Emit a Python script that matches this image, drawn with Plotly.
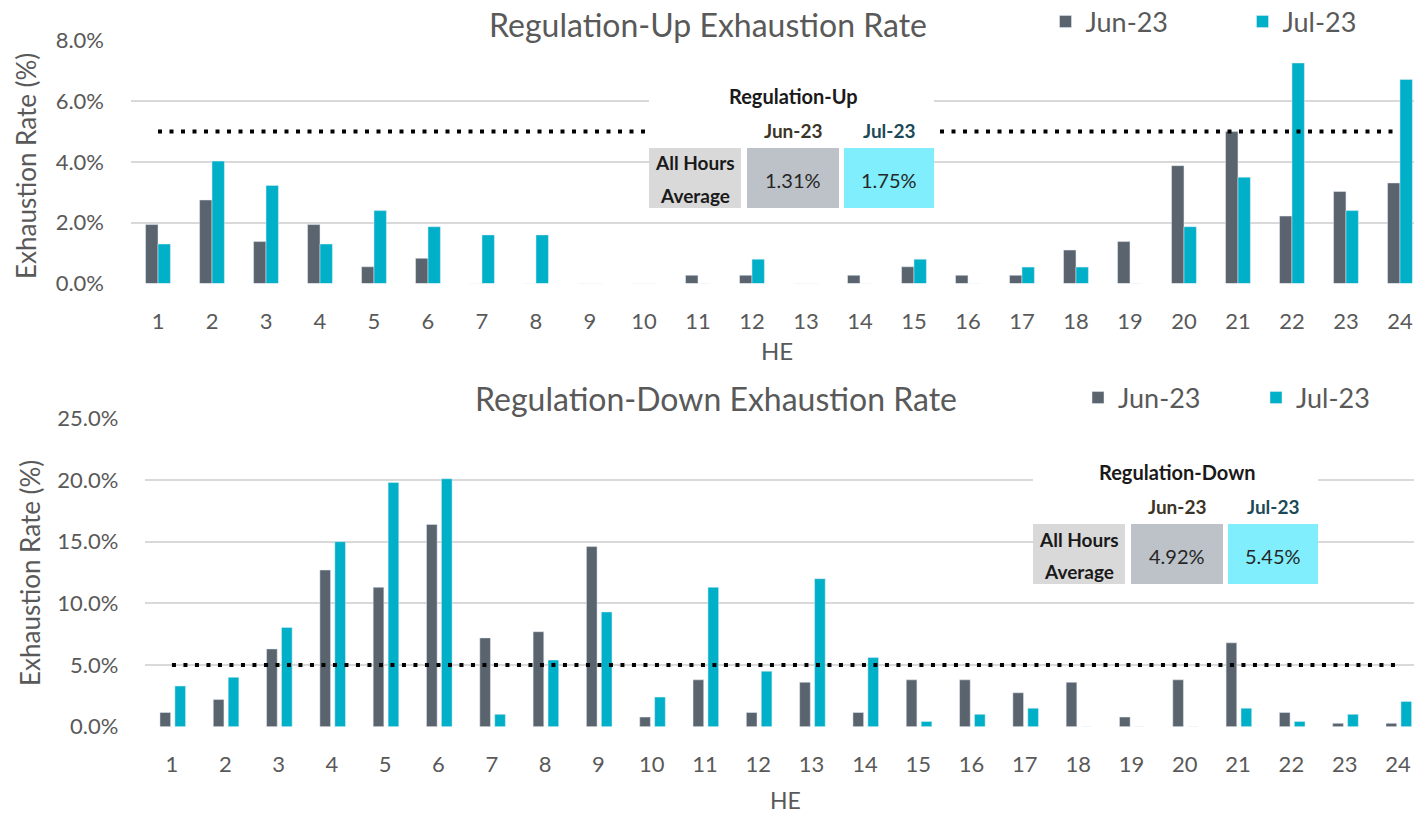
import plotly.graph_objects as go

W, H = 1414, 816

# ---------------- data ----------------
hours = list(range(1, 25))
hour_labels = [str(h) for h in hours]

reg_up_jun = [1.94, 2.75, 1.38, 1.94, 0.55, 0.83, 0, 0, 0, 0, 0.27, 0.27,
              0, 0.27, 0.55, 0.27, 0.27, 1.10, 1.38, 3.88, 5.0, 2.22, 3.03, 3.31]
reg_up_jul = [1.30, 4.03, 3.23, 1.30, 2.40, 1.87, 1.60, 1.60, 0, 0, 0, 0.80,
              0, 0, 0.80, 0, 0.54, 0.54, 0, 1.87, 3.50, 7.26, 2.40, 6.72]

reg_dn_jun = [1.15, 2.2, 6.3, 12.7, 11.3, 16.4, 7.2, 7.7, 14.6, 0.78, 3.8, 1.15,
              3.6, 1.15, 3.8, 3.8, 2.75, 3.6, 0.78, 3.8, 6.8, 1.15, 0.27, 0.27]
reg_dn_jul = [3.3, 4.0, 8.05, 15.0, 19.8, 20.1, 1.0, 5.4, 9.3, 2.4, 11.3, 4.5,
              12.0, 5.6, 0.43, 1.0, 1.5, 0, 0, 0, 1.5, 0.43, 1.0, 2.05]

threshold = 5.0
threshold_x = [1, 24]

months = ["Jun-23", "Jul-23"]
up_avg = ["1.31%", "1.75%"]
dn_avg = ["4.92%", "5.45%"]

# ---------------- style ----------------
C_JUN = "#59646e"
C_JUL = "#00b0c8"
C_GRID = "#d9d9d9"
C_TXT = "#595959"
FONT = "Lato"

def px_x(p):
    return p / W

def px_y(p):
    return 1 - p / H

fig = go.Figure()

# top chart (adjacent bars)
fig.add_trace(go.Bar(x=hours, y=reg_up_jun, name=months[0], marker_color=C_JUN,
                     xaxis="x", yaxis="y", legend="legend"))
fig.add_trace(go.Bar(x=hours, y=reg_up_jul, name=months[1], marker_color=C_JUL,
                     xaxis="x", yaxis="y", legend="legend2"))
fig.add_trace(go.Scatter(x=threshold_x, y=[threshold, threshold], mode="lines",
                         line=dict(color="black", width=4, dash="4px,7.5px"),
                         showlegend=False, xaxis="x", yaxis="y", hoverinfo="skip"))
# bottom chart (small gap between the two bars of a pair)
fig.add_trace(go.Bar(x=hours, y=reg_dn_jun, name=months[0], marker_color=C_JUN,
                     width=0.2, offset=-0.225,
                     xaxis="x2", yaxis="y2", legend="legend3"))
fig.add_trace(go.Bar(x=hours, y=reg_dn_jul, name=months[1], marker_color=C_JUL,
                     width=0.2, offset=0.055,
                     xaxis="x2", yaxis="y2", legend="legend4"))
fig.add_trace(go.Scatter(x=threshold_x, y=[threshold, threshold], mode="lines",
                         line=dict(color="black", width=4, dash="4px,7.5px"),
                         showlegend=False, xaxis="x2", yaxis="y2", hoverinfo="skip"))

tickfont = dict(family=FONT, size=22, color=C_TXT)

xcommon = dict(tickmode="array", tickvals=hours, ticktext=hour_labels,
               showgrid=False, zeroline=False, showline=False, ticks="",
               tickfont=tickfont, ticklabelstandoff=22, fixedrange=True)
ycommon = dict(showgrid=True, gridcolor=C_GRID, gridwidth=1.5, zeroline=False,
               showline=False, ticks="", ticksuffix="%", tickformat=".1f",
               tickfont=tickfont, ticklabelstandoff=26, fixedrange=True)

def legend_at(x_center_sym, y_center):
    return dict(orientation="h", xref="container", yref="container",
                x=px_x(x_center_sym - 20), xanchor="left",
                y=px_y(y_center), yanchor="middle",
                font=dict(family=FONT, size=27, color=C_TXT),
                bgcolor="rgba(0,0,0,0)", borderwidth=0, itemwidth=30)

fig.update_layout(
    width=W, height=H,
    margin=dict(l=0, r=0, t=0, b=0, autoexpand=False),
    paper_bgcolor="white", plot_bgcolor="white",
    barmode="group", bargap=0.54, bargroupgap=0.0,
    font=dict(family=FONT, color=C_TXT),
    xaxis=dict(domain=[px_x(131), 1], range=[0.5, 24.26], anchor="y", **xcommon),
    yaxis=dict(domain=[px_y(283.5), px_y(40.5)], range=[0, 8], dtick=2,
               anchor="x", **ycommon),
    xaxis2=dict(domain=[px_x(145.3), 1], range=[0.5, 24.3], anchor="y2", **xcommon),
    yaxis2=dict(domain=[px_y(726.7), px_y(418.3)], range=[0, 25], dtick=5,
                anchor="x2", **ycommon),
    legend=legend_at(1065.5, 22),
    legend2=legend_at(1262.5, 22),
    legend3=legend_at(1098, 398),
    legend4=legend_at(1276, 398),
    showlegend=True,
)

annotations = []
shapes = []

def txt(x, y, text, size, color=C_TXT, bold=False, angle=0):
    annotations.append(dict(
        x=px_x(x), y=px_y(y), xref="paper", yref="paper", text=(f"<b>{text}</b>" if bold else text),
        showarrow=False, xanchor="center", yanchor="middle", textangle=angle,
        font=dict(family=FONT, size=size, color=color)))

def rect(x0, y0, x1, y1, color):
    shapes.append(dict(type="rect", xref="paper", yref="paper",
                       x0=px_x(x0), x1=px_x(x1), y0=px_y(y1), y1=px_y(y0),
                       fillcolor=color, line=dict(width=0), layer="above"))

# titles
txt(708, 24, "Regulation-Up Exhaustion Rate", 32)
txt(716, 398, "Regulation-Down Exhaustion Rate", 32)
# axis titles
txt(26, 166, "Exhaustion Rate (%)", 26, angle=-90)
txt(30, 573, "Exhaustion Rate (%)", 26, angle=-90)
txt(777, 350, "HE", 24)
txt(785, 800, "HE", 23)

# summary tables
def table(x0, ytop, title, vals):
    # x0: left of first cell; ytop: top of white box
    rect(x0, ytop, x0 + 285, ytop + 126, "white")
    cy0 = ytop + 66
    cy1 = ytop + 126
    rect(x0, cy0, x0 + 92, cy1, "#d9d9d9")
    rect(x0 + 98, cy0, x0 + 190, cy1, "#bcc2c8")
    rect(x0 + 195, cy0, x0 + 285, cy1, "#80eefc")
    txt(x0 + 144, ytop + 14, title, 20, color="#1a1a1a", bold=True)
    txt(x0 + 144, ytop + 48, months[0], 19, color="#3d3428", bold=True)
    txt(x0 + 240, ytop + 48, months[1], 19, color="#1c4a58", bold=True)
    txt(x0 + 46, ytop + 81, "All Hours", 19, color="#1a1a1a", bold=True)
    txt(x0 + 46, ytop + 113, "Average", 19, color="#1a1a1a", bold=True)
    txt(x0 + 144, ytop + 98, vals[0], 20, color="#262626")
    txt(x0 + 240, ytop + 98, vals[1], 20, color="#262626")

table(649, 82, "Regulation-Up", up_avg)
table(1033, 458, "Regulation-Down", dn_avg)

fig.update_layout(annotations=annotations, shapes=shapes)

# remove the browser's default 8px body margin so the figure fills the window
fig.write_html("out.html",
               config={"displayModeBar": False},
               post_script="document.body.style.margin='0';document.body.style.overflow='hidden';")
